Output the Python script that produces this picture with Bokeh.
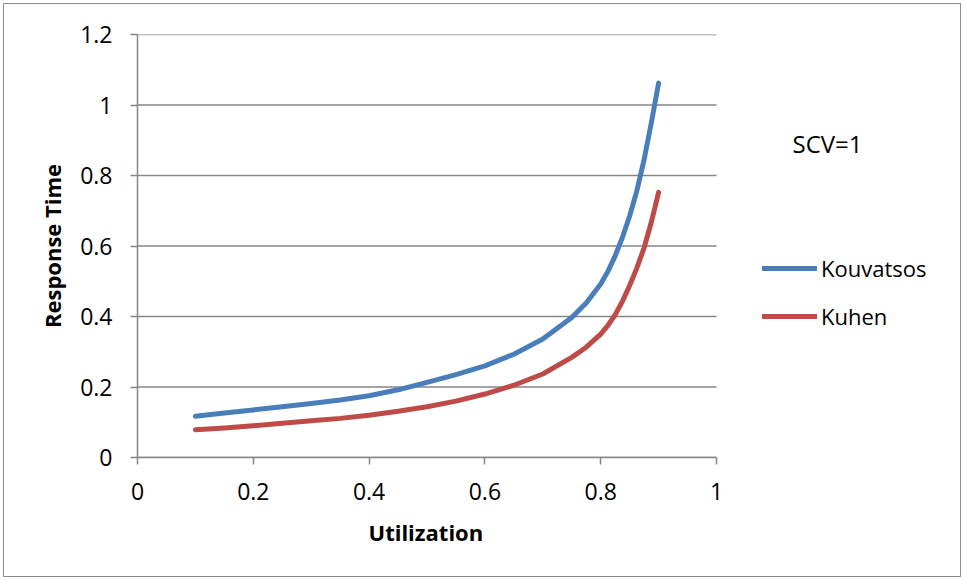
from bokeh.plotting import figure
from bokeh.models import (Range1d, FixedTicker, Label, Legend, LegendItem,
                          ColumnDataSource, Title)
from bokeh.embed import file_html
from bokeh.resources import INLINE

utilization = [0.10, 0.15, 0.20, 0.25, 0.30, 0.35, 0.40, 0.45, 0.50, 0.55,
               0.60, 0.65, 0.70, 0.75, 0.775, 0.80, 0.8125, 0.825, 0.8375,
               0.85, 0.8625, 0.875, 0.8875, 0.90]
kouvatsos = [0.117, 0.126, 0.135, 0.144, 0.153, 0.163, 0.175, 0.192, 0.213, 0.235,
             0.260, 0.293, 0.336, 0.397, 0.438, 0.492, 0.528, 0.572, 0.624,
             0.685, 0.757, 0.845, 0.950, 1.062]
kuhen = [0.079, 0.084, 0.090, 0.097, 0.104, 0.111, 0.120, 0.131, 0.144, 0.160,
         0.180, 0.205, 0.237, 0.284, 0.313, 0.350, 0.375, 0.405, 0.443,
         0.488, 0.538, 0.595, 0.668, 0.752]

x_ticks = [0, 0.2, 0.4, 0.6, 0.8, 1]
x_tick_labels = ["0", "0.2", "0.4", "0.6", "0.8", "1"]
y_ticks = [0, 0.2, 0.4, 0.6, 0.8, 1, 1.2]
y_tick_labels = ["0", "0.2", "0.4", "0.6", "0.8", "1", "1.2"]

series_names = ["Kouvatsos", "Kuhen"]
series_colors = ["#4A7EBB", "#BE4B48"]
annotation_text = "SCV=1"
x_title = "Utilization"
y_title = "Response Time"

FONT = "Open Sans"
GRID = "#868686"

# frame: x 137..962 px, where x=1 sits at 716 px
x_max = (962 - 137) / (716 - 137)

p = figure(width=958, height=574, output_backend="svg", toolbar_location=None,
           x_range=Range1d(0, x_max), y_range=Range1d(0, 1.2),
           min_border_left=133, min_border_right=0, min_border_top=30,
           min_border_bottom=121, background_fill_color="white",
           border_fill_color="white")
p.styles = {"border": "1px solid #8c8c8c", "margin": "3px"}
p.outline_line_color = None

p.xaxis.ticker = FixedTicker(ticks=x_ticks)
p.yaxis.ticker = FixedTicker(ticks=y_ticks)
p.xaxis.major_label_overrides = dict(zip(x_ticks, x_tick_labels))
p.yaxis.major_label_overrides = dict(zip(y_ticks, y_tick_labels))
p.xaxis.bounds = (x_ticks[0], x_ticks[-1])

for ax in (p.xaxis, p.yaxis):
    ax.axis_line_color = GRID
    ax.axis_line_width = 1.5
    ax.major_tick_line_color = GRID
    ax.major_tick_line_width = 1.5
    ax.major_tick_out = 7
    ax.major_tick_in = 0
    ax.minor_tick_line_color = None
    ax.major_label_text_font = FONT
    ax.major_label_text_font_size = "23px"
    ax.major_label_text_color = "black"
    ax.axis_label_text_font = FONT
    ax.axis_label_text_font_size = "22px"
    ax.axis_label_text_font_style = "bold"
    ax.axis_label_text_color = "black"

p.yaxis.axis_label = y_title
p.yaxis.major_label_standoff = 18
p.xaxis.major_label_standoff = 18
p.yaxis.axis_label_standoff = 10

# x-axis title placed under the 0..1 span of the axis
t = Title(text=x_title, align="left", offset=231, standoff=24,
          text_font=FONT, text_font_size="22px", text_font_style="bold",
          text_color="black")
p.add_layout(t, "below")

p.xgrid.grid_line_color = None
p.ygrid.grid_line_color = None

# horizontal gridlines limited to the x-axis extent
p.segment(x0=[x_ticks[0]] * len(y_ticks), x1=[x_ticks[-1]] * len(y_ticks),
          y0=y_ticks, y1=y_ticks, line_color=GRID, line_width=1.5)

src = ColumnDataSource(dict(x=utilization, k=kouvatsos, h=kuhen))
r1 = p.line("x", "k", source=src, line_color=series_colors[0], line_width=5,
            line_cap="round", line_join="round")
r2 = p.line("x", "h", source=src, line_color=series_colors[1], line_width=5,
            line_cap="round", line_join="round")

legend = Legend(items=[LegendItem(label=series_names[0], renderers=[r1]),
                       LegendItem(label=series_names[1], renderers=[r2])],
                location=(625, 126), orientation="vertical")
legend.glyph_width = 55
legend.glyph_height = 20
legend.label_height = 20
legend.spacing = 18
legend.padding = 0
legend.margin = 0
legend.label_standoff = 4
legend.border_line_color = None
legend.background_fill_alpha = 0
legend.label_text_font = FONT
legend.label_text_font_size = "22px"
legend.label_text_color = "black"
p.add_layout(legend, "center")

p.add_layout(Label(x=655, y=314, x_units="screen", y_units="screen",
                   text=annotation_text, text_font=FONT, text_font_size="24px",
                   text_color="black", text_baseline="middle", text_align="left"))

open("out.html", "w").write(file_html(p, INLINE))
